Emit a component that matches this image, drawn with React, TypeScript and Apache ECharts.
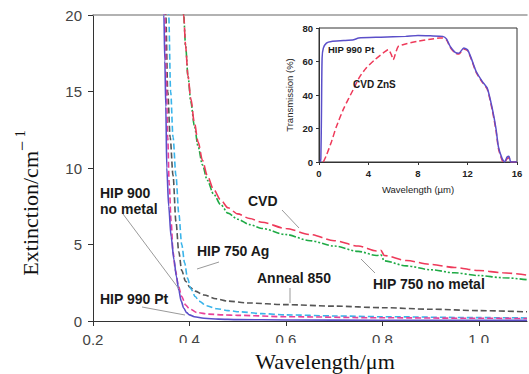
import { useEffect, useRef } from 'react';
import * as echarts from 'echarts';

// ---- Main chart data: [wavelength (µm), extinction (cm^-1)] ----
const hip990Pt = [[0.346,21],[0.347,20],[0.349,17],[0.351,14],[0.353,10],[0.357,7.5],[0.362,5.5],[0.368,4],[0.373,2.9],[0.378,2],[0.383,1.3],[0.388,0.85],[0.394,0.55],[0.4,0.4],[0.41,0.28],[0.43,0.18],[0.46,0.12],[0.5,0.09],[0.6,0.07],[0.8,0.05],[1.1,0.04]];
const hip900NoMetal = [[0.348,21],[0.349,20],[0.352,16],[0.355,12],[0.358,9],[0.362,6.5],[0.366,4.5],[0.371,3.3],[0.377,2.3],[0.384,1.6],[0.392,1.05],[0.4,0.8],[0.416,0.55],[0.44,0.45],[0.47,0.4],[0.5,0.37],[0.6,0.28],[0.8,0.21],[1.0,0.18],[1.1,0.16]];
const anneal850 = [[0.35,21],[0.351,20],[0.355,15],[0.36,12],[0.366,9.5],[0.372,6.5],[0.378,4.5],[0.384,3.3],[0.392,2.6],[0.401,2.2],[0.412,1.95],[0.43,1.7],[0.455,1.45],[0.48,1.3],[0.52,1.18],[0.6,1.07],[0.7,0.97],[0.8,0.87],[0.9,0.77],[1.0,0.68],[1.1,0.6]];
const hip750Ag = [[0.356,21],[0.357,20],[0.361,15],[0.366,12],[0.372,9.5],[0.378,7],[0.384,5],[0.39,3.8],[0.396,2.8],[0.403,2.1],[0.412,1.6],[0.42,1.3],[0.435,1.0],[0.457,0.8],[0.48,0.68],[0.505,0.6],[0.55,0.48],[0.6,0.4],[0.7,0.33],[0.8,0.28],[1.0,0.22],[1.1,0.2]];
const cvd = [[0.386,21],[0.388,20],[0.392,18],[0.397,16],[0.403,14.5],[0.41,13],[0.418,11.7],[0.427,10.5],[0.437,9.5],[0.45,8.6],[0.465,7.9],[0.48,7.4],[0.5,7.0],[0.525,6.7],[0.55,6.45],[0.6,6.05],[0.65,5.65],[0.7,5.25],[0.75,4.9],[0.788,4.58],[0.797,4.62],[0.804,4.28],[0.85,3.95],[0.9,3.7],[0.95,3.5],[1.0,3.3],[1.05,3.15],[1.1,3.0]];
const hip750NoMetal = [[0.386,21],[0.388,20],[0.392,18],[0.397,16],[0.403,14.3],[0.41,12.8],[0.418,11.4],[0.427,10.2],[0.437,9.2],[0.45,8.3],[0.465,7.6],[0.48,7.05],[0.5,6.65],[0.525,6.3],[0.55,6.05],[0.6,5.65],[0.65,5.25],[0.7,4.9],[0.75,4.55],[0.788,4.28],[0.797,4.32],[0.804,3.93],[0.85,3.6],[0.9,3.35],[0.95,3.15],[1.0,2.97],[1.05,2.83],[1.1,2.7]];

// ---- Inset data: [wavelength (µm), transmission (%)] ----
const insetHip990Pt = [[0.1,0],[0.15,2],[0.2,30],[0.25,62],[0.35,68],[0.6,71],[1,72],[2,72.5],[2.8,73],[3.2,74],[5,74.5],[7,75],[8,75.5],[9,75.3],[10,75],[10.3,73.5],[10.6,69],[11,65.5],[11.3,65],[11.7,68],[12,67],[12.3,62],[12.7,54],[13.2,48],[13.6,44],[14,32],[14.3,20],[14.5,9],[14.8,2],[15,0],[15.2,3],[15.35,3.5],[15.5,0],[16,0]];
const insetCvdZnS = [[0.35,0],[0.6,4],[1,12],[1.4,21],[2,32],[2.75,43],[3.3,51],[3.8,56],[4.5,61],[5.17,65],[5.6,67],[5.85,64],[6.0,61],[6.15,64],[6.4,69],[7,70.5],[7.9,72],[9,73.3],[9.75,74],[10,74],[10.3,73],[10.6,68.5],[11,65],[11.3,64.5],[11.7,67.5],[12,66.5],[12.3,61.5],[12.7,53.5],[13.2,47.5],[13.6,43.5],[14,31],[14.3,19],[14.5,8],[14.8,1],[15,0],[15.2,2],[15.35,2.5],[15.5,0],[16,0]];

const mainXTicks = { min: 0.2, max: 1.1, interval: 0.2 };
const mainYTicks = { min: 0, max: 20, interval: 5 };
const insetXTicks = { min: 0, max: 16, interval: 4 };
const insetYTicks = { min: 0, max: 80, interval: 20 };

const SANS = 'Liberation Sans, Arial, sans-serif';
const SERIF = 'Liberation Serif, Times New Roman, serif';

function mainLine(name: string, data: number[][], color: string, dash: any, width = 1.6) {
  return {
    name, type: 'line', xAxisIndex: 0, yAxisIndex: 0, data,
    showSymbol: false, smooth: 0.3, smoothMonotone: 'x', clip: true,
    lineStyle: { color, width, type: dash },
    z: 3,
  };
}

function insetLine(name: string, data: number[][], color: string, dash: any) {
  return {
    name, type: 'line', xAxisIndex: 2, yAxisIndex: 1, data,
    showSymbol: false, smooth: 0.2, clip: true,
    lineStyle: { color, width: 1.5, type: dash },
  };
}

function label(text: string, x: number, y: number, size = 14) {
  return {
    type: 'text', x, y, z: 50,
    style: { text, fill: '#1a1a1a', font: `bold ${size}px ${SANS}`, align: 'left', verticalAlign: 'middle' },
  };
}

function pointer(x1: number, y1: number, x2: number, y2: number) {
  return {
    type: 'line', z: 40,
    shape: { x1, y1, x2, y2 },
    style: { stroke: '#9a9a9a', lineWidth: 1 },
  };
}

export default function App() {
  const ref = useRef<HTMLDivElement>(null);
  useEffect(() => {
    if (!ref.current) return;
    const chart = echarts.init(ref.current, undefined, { renderer: 'svg' });
    chart.setOption({
      animation: false,
      backgroundColor: '#ffffff',
      grid: [
        { left: 93, top: 15, right: 2, bottom: 53 },
        { left: 319, top: 28, width: 198, height: 134, show: true, borderColor: '#333', borderWidth: 1, backgroundColor: 'rgba(0,0,0,0)' },
      ],
      xAxis: [
        {
          type: 'value', gridIndex: 0, ...mainXTicks, position: 'bottom',
          axisLine: { show: true, lineStyle: { color: '#333', width: 1 } },
          axisTick: { show: true, length: 5, lineStyle: { color: '#333' } },
          axisLabel: { showMaxLabel: false, margin: 11, color: '#444', fontSize: 15, fontFamily: SANS, formatter: (v: number) => v.toFixed(1) },
          splitLine: { show: false },
        },
        {
          type: 'value', gridIndex: 0, ...mainXTicks, position: 'top',
          axisLine: { show: true, lineStyle: { color: '#999', width: 1.5 } },
          axisTick: { show: false }, axisLabel: { show: false }, splitLine: { show: false },
        },
        {
          type: 'value', gridIndex: 1, ...insetXTicks,
          name: 'Wavelength (µm)', nameLocation: 'middle', nameGap: 22,
          nameTextStyle: { color: '#222', fontSize: 9.5, fontFamily: SANS },
          axisLine: { show: true, lineStyle: { color: '#333' } },
          axisTick: { show: true, length: 3, lineStyle: { color: '#333' } },
          axisLabel: { margin: 6, color: '#222', fontSize: 9.5, fontWeight: 'bold', fontFamily: SANS },
          splitLine: { show: false },
        },
      ],
      yAxis: [
        {
          type: 'value', gridIndex: 0, ...mainYTicks,
          axisLine: { show: true, lineStyle: { color: '#333', width: 1 } },
          axisTick: { show: true, length: 5, lineStyle: { color: '#333' } },
          axisLabel: { margin: 11, color: '#444', fontSize: 15, fontFamily: SANS },
          splitLine: { show: false },
        },
        {
          type: 'value', gridIndex: 1, ...insetYTicks,
          name: 'Transmission (%)', nameLocation: 'middle', nameGap: 25,
          nameTextStyle: { color: '#222', fontSize: 9.5, fontFamily: SANS },
          axisLine: { show: true, lineStyle: { color: '#333' } },
          axisTick: { show: true, length: 3, lineStyle: { color: '#333' } },
          axisLabel: { margin: 6, color: '#222', fontSize: 9.5, fontWeight: 'bold', fontFamily: SANS },
          splitLine: { show: false },
        },
      ],
      series: [
        mainLine('Anneal 850', anneal850, '#555555', [6, 3]),
        mainLine('HIP 750 Ag', hip750Ag, '#3ab4ea', [6, 3]),
        mainLine('HIP 900 no metal', hip900NoMetal, '#e8409a', [6, 3]),
        mainLine('HIP 990 Pt', hip990Pt, '#5b4fc9', 'solid'),
        mainLine('HIP 750 no metal', hip750NoMetal, '#1faa45', [7, 2, 2, 2, 2, 2]),
        mainLine('CVD', cvd, '#ee3a5a', [10, 4]),
        insetLine('CVD ZnS', insetCvdZnS, '#ee3a5a', [6, 3]),
        insetLine('HIP 990 Pt inset', insetHip990Pt, '#5b4fc9', 'solid'),
      ],
      graphic: [
        // clipped look of the main x tick labels
        { type: 'rect', z: 100, shape: { x: 150, y: 343, width: 379, height: 7 }, style: { fill: '#ffffff' } },
        {
          type: 'text', x: 27, y: 203, rotation: Math.PI / 2, z: 50,
          style: {
            text: '{a|Extinction/cm}{b|−}{c| 1}',
            align: 'center', verticalAlign: 'middle', fill: '#111',
            rich: {
              a: { fontFamily: SERIF, fontSize: 22, color: '#111', verticalAlign: 'bottom', lineHeight: 28 },
              b: { fontFamily: SERIF, fontSize: 18, color: '#111', verticalAlign: 'top', lineHeight: 28 },
              c: { fontFamily: SERIF, fontSize: 14, color: '#111', verticalAlign: 'top', lineHeight: 28 },
            },
          },
        },
        {
          type: 'text', x: 325, y: 361, z: 50,
          style: { text: 'Wavelength/μm', font: `22px ${SERIF}`, fill: '#111', align: 'center', verticalAlign: 'middle' },
        },
        label('HIP 900', 100, 193),
        label('no metal', 100, 209),
        label('HIP 990 Pt', 100, 299),
        label('HIP 750 Ag', 197, 251),
        label('Anneal 850', 257, 278),
        label('CVD', 248, 201),
        label('HIP 750 no metal', 373, 284),
        label('HIP 990 Pt', 328, 49, 9.5),
        label('CVD ZnS', 353, 84, 10),
        pointer(123, 214, 179, 289),
        pointer(142, 307, 185, 315),
        pointer(219, 262, 197, 269),
        pointer(290, 288, 290, 303),
        pointer(282, 210, 299, 228),
        pointer(375, 273, 361, 259),
      ],
    });
    return () => chart.dispose();
  }, []);
  return <div ref={ref} style={{ width: 529, height: 374, position: 'absolute', left: 0, top: 0 }} />;
}
